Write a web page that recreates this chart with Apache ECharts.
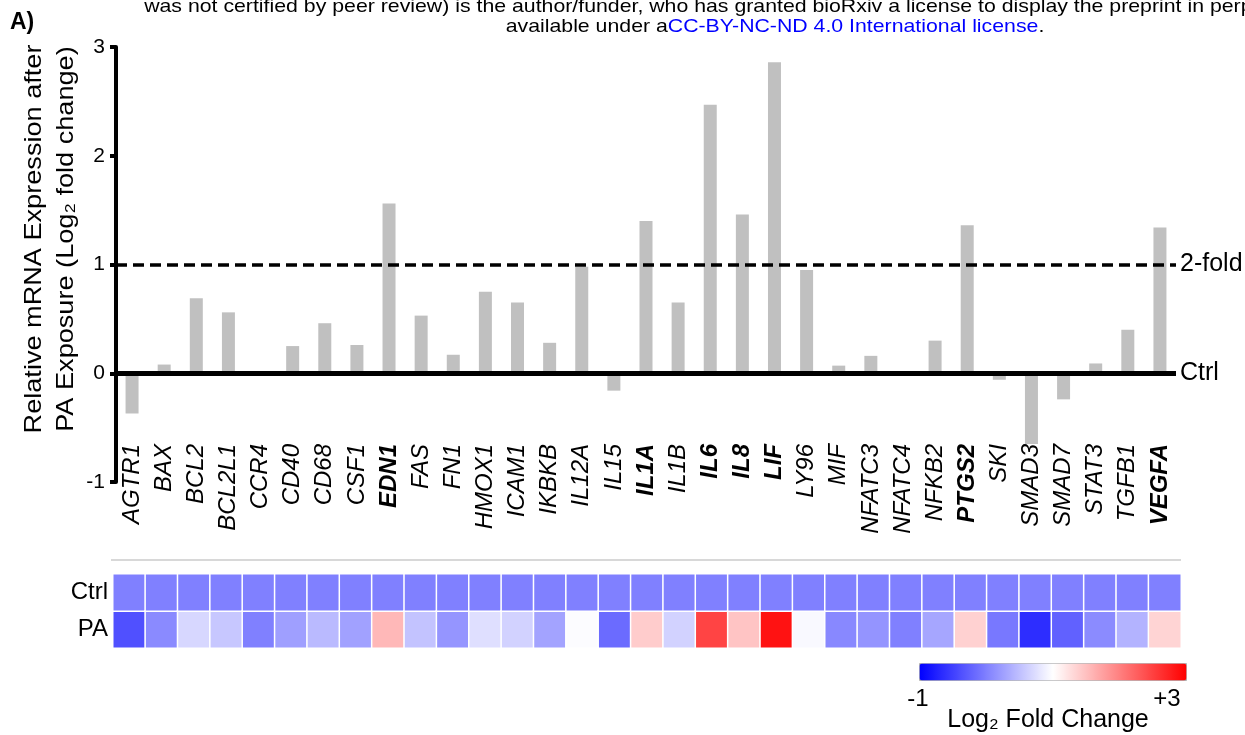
<!DOCTYPE html>
<html>
<head>
<meta charset="utf-8">
<script src="https://cdn.jsdelivr.net/npm/echarts@6/dist/echarts.min.js"></script>
<style>
  html, body { margin: 0; padding: 0; background: #fff; }
  #chart { width: 1245px; height: 735px; }
</style>
</head>
<body>
<div id="chart"></div>
<script>
// genes on the x axis
const genes = ['AGTR1', 'BAX', 'BCL2', 'BCL2L1', 'CCR4', 'CD40', 'CD68', 'CSF1', 'EDN1', 'FAS',
  'FN1', 'HMOX1', 'ICAM1', 'IKBKB', 'IL12A', 'IL15', 'IL1A', 'IL1B', 'IL6', 'IL8', 'LIF', 'LY96',
  'MIF', 'NFATC3', 'NFATC4', 'NFKB2', 'PTGS2', 'SKI', 'SMAD3', 'SMAD7', 'STAT3', 'TGFB1', 'VEGFA']
// genes shown in bold (above 2-fold)
const boldGenes = ['EDN1', 'IL1A', 'IL6', 'IL8', 'LIF', 'PTGS2', 'VEGFA']
// log2 fold change after PA exposure
const paFold = [-0.37, 0.08, 0.69, 0.56, 0, 0.25, 0.46, 0.26, 1.56, 0.53,
  0.17, 0.75, 0.65, 0.28, 0.98, -0.16, 1.40, 0.65, 2.47, 1.46, 2.86, 0.95,
  0.07, 0.16, 0, 0.30, 1.36, -0.06, -0.65, -0.24, 0.09, 0.40, 1.34]
// control is the reference level
const ctrlFold = genes.map(() => 0)
const heatRows = ['PA', 'Ctrl']
const yTicks = [-1, 0, 1, 2, 3]

const FONT = 'Liberation Sans, Arial, sans-serif'

const heatData = []
genes.forEach((g, i) => {
  heatData.push([i, 0, paFold[i]])
  heatData.push([i, 1, ctrlFold[i]])
})

const chart = echarts.init(document.getElementById('chart'))
chart.setOption({
  animation: false,
  textStyle: { fontFamily: FONT, color: '#000' },
  grid: [
    { left: 116, right: 69, top: 47, height: 435 },
    { left: 113, right: 64, top: 574, height: 74, show: true, borderColor: '#c8c8c8', borderWidth: 1.5, backgroundColor: 'transparent' }
  ],
  xAxis: [
    {
      type: 'category', gridIndex: 0, data: genes, position: 'bottom',
      axisLine: { show: false, onZero: false }, axisTick: { show: false },
      axisLabel: {
        interval: 0, rotate: 90, margin: -38,
        formatter: v => boldGenes.includes(v) ? '{b|' + v + '}' : '{n|' + v + '}',
        rich: {
          n: { fontSize: 24, fontStyle: 'italic', fontFamily: FONT, color: '#000' },
          b: { fontSize: 24, fontStyle: 'italic', fontWeight: 'bold', fontFamily: FONT, color: '#000' }
        }
      }
    },
    { type: 'category', gridIndex: 1, data: genes, show: false }
  ],
  yAxis: [
    {
      type: 'value', gridIndex: 0, min: yTicks[0], max: yTicks[yTicks.length - 1], interval: 1,
      splitLine: { show: false },
      axisLine: { show: true, lineStyle: { color: '#000', width: 4 } },
      axisTick: { show: true, length: 6, lineStyle: { color: '#000', width: 4 } },
      axisLabel: { fontSize: 21, color: '#000', margin: 11 }
    },
    {
      type: 'category', gridIndex: 1, data: heatRows,
      axisLine: { show: false }, axisTick: { show: false },
      axisLabel: { fontSize: 24, color: '#000', margin: 5 }
    }
  ],
  visualMap: {
    type: 'continuous', seriesIndex: 1, min: -1, max: 3,
    orient: 'horizontal', left: 919, top: 663, padding: 0,
    itemWidth: 17, itemHeight: 267, calculable: false, text: null,
    borderColor: '#b0b0b0', borderWidth: 1,
    inRange: { color: ['#0000ff', '#ffffff', '#ff0000'] }
  },
  series: [
    {
      type: 'bar', xAxisIndex: 0, yAxisIndex: 0, data: paFold, barWidth: 13,
      itemStyle: { color: '#c0c0c0' },
      markLine: {
        silent: true, symbol: 'none',
        label: { position: 'end', distance: 4, fontSize: 25, color: '#000', fontFamily: FONT },
        data: [
          { yAxis: 1, label: { formatter: '2-fold' }, lineStyle: { color: '#000', width: 3.5, type: [11, 6] } },
          { yAxis: 0, label: { formatter: 'Ctrl' }, lineStyle: { color: '#000', width: 5, type: 'solid' } }
        ]
      }
    },
    {
      type: 'heatmap', xAxisIndex: 1, yAxisIndex: 1, data: heatData,
      itemStyle: { borderColor: '#fff', borderWidth: 1.5 },
      emphasis: { disabled: true }
    }
  ],
  graphic: [
    { type: 'text', left: 10, top: 11, style: { text: 'A)', font: 'bold 23px ' + FONT, fill: '#000' } },
    { type: 'text', x: 775, y: 7, scaleX: 1.12, style: {
      text: 'was not certified by peer review) is the author/funder, who has granted bioRxiv a license to display the preprint in perpetuity. It is made',
      font: '19px ' + FONT, fill: '#000', textAlign: 'center', textVerticalAlign: 'middle' } },
    { type: 'text', x: 775, y: 27, scaleX: 1.12, style: {
      text: '{k|available under a}{u|CC-BY-NC-ND 4.0 International license}{k|.}',
      textAlign: 'center', textVerticalAlign: 'middle',
      rich: {
        k: { fontSize: 19, fontFamily: FONT, fill: '#000', color: '#000' },
        u: { fontSize: 19, fontFamily: FONT, fill: '#0000ff', color: '#0000ff' }
      } } },
    { type: 'text', x: 34, y: 239, rotation: Math.PI / 2, scaleX: 1.13, style: {
      text: 'Relative mRNA Expression after', font: '24px ' + FONT, fill: '#000',
      textAlign: 'center', textVerticalAlign: 'middle' } },
    { type: 'text', x: 66, y: 239, rotation: Math.PI / 2, scaleX: 1.13, style: {
      text: 'PA Exposure (Log₂ fold change)', font: '24px ' + FONT, fill: '#000',
      textAlign: 'center', textVerticalAlign: 'middle' } },
    { type: 'line', shape: { x1: 111, y1: 560, x2: 1181, y2: 560 }, style: { stroke: '#d8d8d8', lineWidth: 2 } },
    { type: 'text', x: 918, y: 699, style: { text: '-1', font: '24px ' + FONT, fill: '#000', textAlign: 'center', textVerticalAlign: 'middle' } },
    { type: 'text', x: 1167, y: 699, style: { text: '+3', font: '24px ' + FONT, fill: '#000', textAlign: 'center', textVerticalAlign: 'middle' } },
    { type: 'text', x: 1048, y: 720, style: { text: 'Log₂ Fold Change', font: '25px ' + FONT, fill: '#000', textAlign: 'center', textVerticalAlign: 'middle' } }
  ]
})
window.addEventListener('resize', () => chart.resize())
</script>
</body>
</html>
